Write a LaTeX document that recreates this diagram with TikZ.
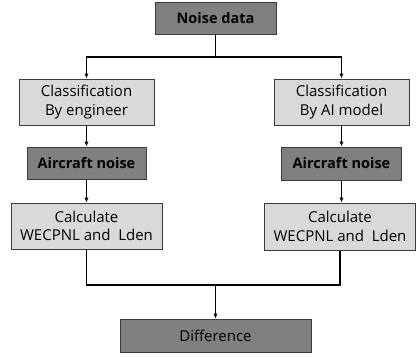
\documentclass[tikz,border=0pt]{standalone}
\usepackage{fontspec}
\setmainfont{Open Sans}
\usetikzlibrary{arrows.meta}
\definecolor{darkbox}{RGB}{128,128,128}
\definecolor{lightbox}{RGB}{217,217,217}
\definecolor{edgec}{RGB}{60,60,60}
\tikzset{
  base/.style={draw=edgec, line width=1pt, inner sep=0pt, align=center, font=\fontsize{15}{18.5}\selectfont},
  lightnode/.style={base, fill=lightbox},
  darknode/.style={base, fill=darkbox, font=\fontsize{14.5}{17}\selectfont\bfseries},
  conn/.style={line width=1.3pt, black},
  arr/.style={conn, -{Latex[length=5pt,width=4.5pt]}}
}
\begin{document}
\begin{tikzpicture}[x=1pt,y=-1pt]
\useasboundingbox (0,0) rectangle (418,357);
\node[darknode, minimum width=121pt, minimum height=32pt] (nd) at (215.5,18) {Noise data};
\node[lightnode, minimum width=135pt, minimum height=46pt] (cl) at (86.5,102) {Classification\\By engineer};
\node[lightnode, minimum width=135pt, minimum height=46pt] (cr) at (341.5,102) {Classification\\By AI model};
\node[darknode, minimum width=119pt, minimum height=32pt] (al) at (86.5,163) {Aircraft noise};
\node[darknode, minimum width=120pt, minimum height=33pt] (ar) at (341.5,163.5) {Aircraft noise};
\node[lightnode, minimum width=151pt, minimum height=46pt] (kl) at (86.5,226) {Calculate\\WECPNL and\ \ Lden};
\node[lightnode, minimum width=151pt, minimum height=47pt] (kr) at (340,226.5) {Calculate\\WECPNL and\ \ Lden};
\node[darknode, font=\fontsize{15}{18}\selectfont, minimum width=191pt, minimum height=33pt] (df) at (215.5,335.5) {Difference};
\coordinate (jt) at (215.5,57);
\coordinate (jb) at (215.5,285);
\draw[conn] (nd.south) -- (jt);
\draw[arr] (jt) -| (cl.north);
\draw[arr] (jt) -| (cr.north);
\draw[arr] (cl.south) -- (al.north);
\draw[arr] (cr.south) -- (ar.north);
\draw[arr] (al.south) -- (kl.north);
\draw[arr] (ar.south) -- (ar.south |- kr.north);
\draw[conn] (kl.south) |- (jb);
\draw[conn] (kr.south) |- (jb);
\draw[arr] (jb) -- (df.north);
\end{tikzpicture}
\end{document}
